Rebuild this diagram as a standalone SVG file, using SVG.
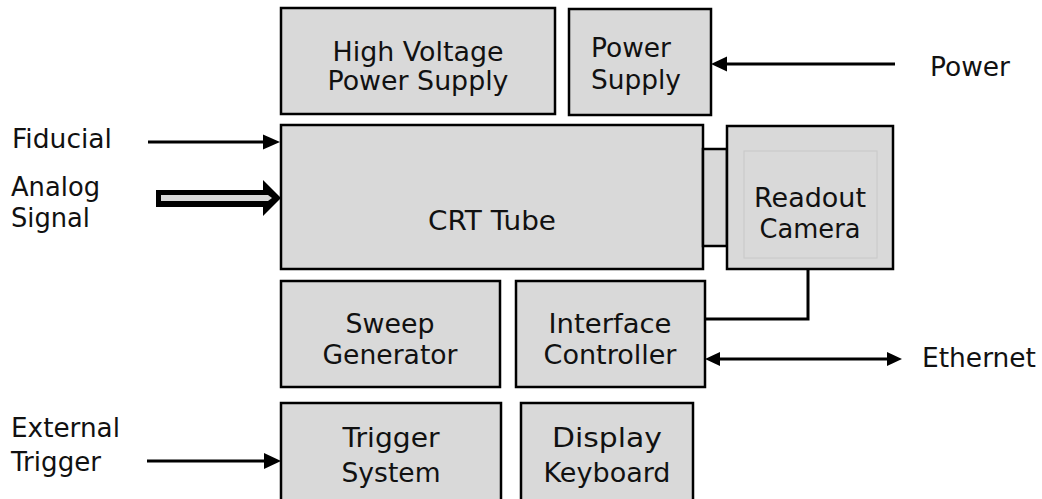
<svg xmlns="http://www.w3.org/2000/svg" width="1042" height="499" viewBox="0 0 1042 499">
<style>
.box{fill:#d9d9d9;stroke:#000;stroke-width:2.5}
.t{font-family:"DejaVu Sans",Verdana,sans-serif;font-size:26px;fill:#111}
.c{text-anchor:middle}
.ln{stroke:#000;stroke-width:3;fill:none}
.hd{fill:#000}
</style>
<rect width="1042" height="499" fill="#fff"/>
<g id="hv"><rect class="box" x="281" y="8" width="274" height="106"/>
<text class="t c" x="418" y="61" textLength="171" lengthAdjust="spacingAndGlyphs">High Voltage</text><text class="t c" x="418" y="90" textLength="181" lengthAdjust="spacingAndGlyphs">Power Supply</text></g>
<g id="ps"><rect class="box" x="569" y="9" width="142" height="106"/>
<text class="t" x="591" y="57" textLength="80" lengthAdjust="spacingAndGlyphs">Power</text><text class="t" x="591" y="89" textLength="90" lengthAdjust="spacingAndGlyphs">Supply</text></g>
<g id="crt"><rect class="box" x="281" y="125" width="422" height="144"/>
<text class="t c" x="492" y="229.5" style="font-size:26.5px" textLength="128" lengthAdjust="spacingAndGlyphs">CRT Tube</text></g>
<g id="coupler"><rect class="box" x="703" y="149" width="24" height="97"/></g>
<g id="cam"><rect class="box" x="727" y="126" width="166" height="143"/>
<rect x="744" y="151" width="133" height="107" fill="none" stroke="#c8c8c8" stroke-width="1"/>
<text class="t c" x="810" y="206.5" textLength="112" lengthAdjust="spacingAndGlyphs">Readout</text><text class="t c" x="810" y="238" textLength="101" lengthAdjust="spacingAndGlyphs">Camera</text></g>
<g id="sweep"><rect class="box" x="281" y="281" width="219" height="106"/>
<text class="t c" x="390" y="333" textLength="89" lengthAdjust="spacingAndGlyphs">Sweep</text><text class="t c" x="390" y="364" textLength="135" lengthAdjust="spacingAndGlyphs">Generator</text></g>
<g id="iface"><rect class="box" x="516" y="281" width="189" height="106"/>
<text class="t c" x="610" y="333" textLength="123" lengthAdjust="spacingAndGlyphs">Interface</text><text class="t c" x="610" y="364" textLength="133" lengthAdjust="spacingAndGlyphs">Controller</text></g>
<g id="trig"><rect class="box" x="281" y="403" width="220" height="100"/>
<text class="t c" x="391" y="447" textLength="97" lengthAdjust="spacingAndGlyphs">Trigger</text><text class="t c" x="391" y="482" textLength="99" lengthAdjust="spacingAndGlyphs">System</text></g>
<g id="disp"><rect class="box" x="521" y="403" width="172" height="100"/>
<text class="t c" x="607" y="447" textLength="110" lengthAdjust="spacingAndGlyphs">Display</text><text class="t c" x="607" y="482" textLength="127" lengthAdjust="spacingAndGlyphs">Keyboard</text></g>
<g id="labels">
<text class="t" x="930" y="76" textLength="80" lengthAdjust="spacingAndGlyphs">Power</text>
<text class="t" x="12" y="148" textLength="100" lengthAdjust="spacingAndGlyphs">Fiducial</text>
<text class="t" x="11" y="196" textLength="89" lengthAdjust="spacingAndGlyphs">Analog</text>
<text class="t" x="11" y="227" textLength="79" lengthAdjust="spacingAndGlyphs">Signal</text>
<text class="t" x="922" y="367" textLength="114" lengthAdjust="spacingAndGlyphs">Ethernet</text>
<text class="t" x="11" y="437" textLength="109" lengthAdjust="spacingAndGlyphs">External</text>
<text class="t" x="11" y="471" textLength="90" lengthAdjust="spacingAndGlyphs">Trigger</text>
</g>
<g id="connectors">
<line class="ln" x1="895" y1="64" x2="725" y2="64"/><polygon class="hd" points="727,56.5 711,64 727,71.5"/>
<line class="ln" x1="148" y1="142" x2="266" y2="142"/><polygon class="hd" points="263,134.5 280,142 263,149.5"/>
<polygon fill="#000" points="156,190 263,190 263,180 281,198 263,216 263,207 156,207"/>
<polygon fill="#d9d9d9" points="161,195 268,195 272,198 268,201 161,201"/>
<polyline class="ln" points="808,269 808,319 705,319"/>
<line class="ln" x1="718" y1="359" x2="890" y2="359"/>
<polygon class="hd" points="720,352 705,359 720,366"/><polygon class="hd" points="887,352 902,359 887,366"/>
<line class="ln" x1="147" y1="461" x2="266" y2="461"/><polygon class="hd" points="264,453 281,461 264,469"/>
</g>
</svg>
